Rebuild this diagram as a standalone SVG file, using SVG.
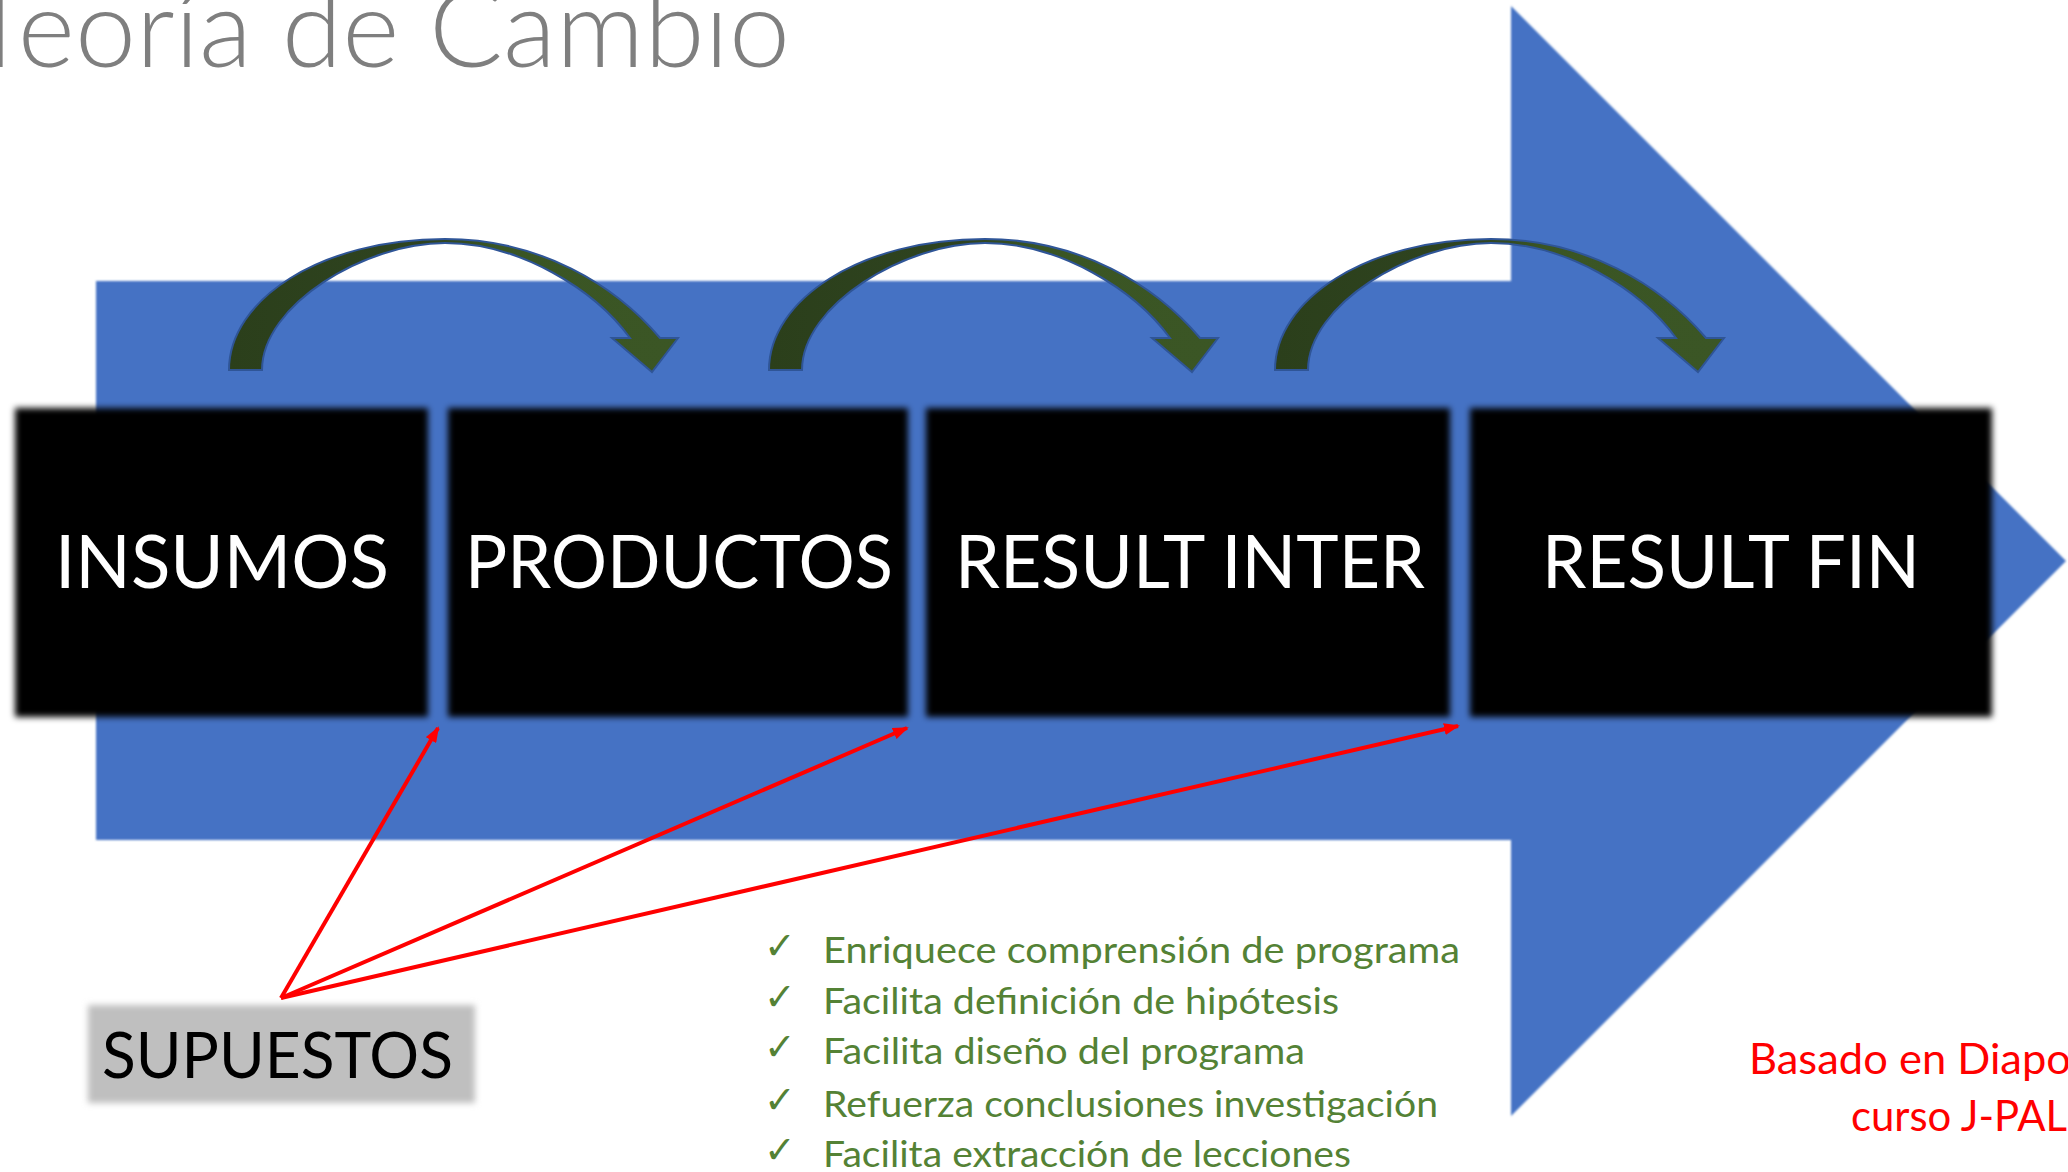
<svg xmlns="http://www.w3.org/2000/svg" width="2068" height="1172" viewBox="0 0 2068 1172">
<defs>
<style>
.box{fill:#000;filter:url(#soft)}
.lbl{font-family:Lato,"Open Sans","Liberation Sans",sans-serif;font-size:74px;fill:#fff;text-anchor:middle}
.curve{fill:url(#grn);stroke:#2f5597;stroke-width:2}
.red{stroke:#ff0000;stroke-width:4;fill:none;marker-end:url(#rh)}
.item{font-family:Lato,"Open Sans","Liberation Sans",sans-serif;font-size:37px;fill:#548235}
.chk{font-family:"DejaVu Sans",sans-serif;font-size:38px;font-weight:bold;fill:#548235}
.note{font-family:Lato,"Open Sans","Liberation Sans",sans-serif;font-size:43px;fill:#ff0000}
</style>
<filter id="soft" x="-10%" y="-10%" width="120%" height="120%"><feGaussianBlur stdDeviation="3"/></filter>
<filter id="soft1" x="-5%" y="-5%" width="110%" height="110%"><feGaussianBlur stdDeviation="1.2"/></filter>
<linearGradient id="grn" x1="0" y1="0" x2="1" y2="0">
<stop offset="0" stop-color="#2b3f1b"/>
<stop offset="0.45" stop-color="#2f4420"/>
<stop offset="0.6" stop-color="#3a5524"/>
<stop offset="1" stop-color="#3b5625"/>
</linearGradient>
<marker id="rh" markerUnits="userSpaceOnUse" markerWidth="16" markerHeight="12" refX="14" refY="6" orient="auto">
<path d="M0,0 L16,6 L0,12 z" fill="#ff0000"/>
</marker>
<path id="carc" d="M229,370 C229,300 320,239 445,239 C540,239 615,285 660,338 L678,338 L652,372 L612,338 L630,338 C595,290 520,243 445,243 C365,243 262,305 262,370 Z"/>
</defs>

<rect width="2068" height="1172" fill="#fff"/>

<g id="big-arrow">
<polygon points="96,281 1511,281 1511,6 2066,561 1511,1116 1511,840 96,840" fill="#4472c4" filter="url(#soft1)"/>
</g>

<text id="title" x="-32" y="67" font-family="Lato,'Open Sans','Liberation Sans',sans-serif" font-weight="300" font-size="108" fill="#7f7f7f" textLength="822" lengthAdjust="spacingAndGlyphs">Teoría de Cambio</text>

<g id="node-insumos">
<rect class="box" x="15" y="408" width="413" height="309"/>
<text class="lbl" x="222" y="588" textLength="334" lengthAdjust="spacingAndGlyphs">INSUMOS</text>
</g>
<g id="node-productos">
<rect class="box" x="448" y="408" width="460" height="309"/>
<text class="lbl" x="679" y="588" textLength="428" lengthAdjust="spacingAndGlyphs">PRODUCTOS</text>
</g>
<g id="node-result-inter">
<rect class="box" x="926" y="408" width="524" height="309"/>
<text class="lbl" x="1190" y="588" textLength="470" lengthAdjust="spacingAndGlyphs">RESULT INTER</text>
</g>
<g id="node-result-fin">
<rect class="box" x="1470" y="408" width="522" height="309"/>
<text class="lbl" x="1731" y="588" textLength="378" lengthAdjust="spacingAndGlyphs">RESULT FIN</text>
</g>

<g id="node-supuestos">
<rect x="88" y="1005" width="387" height="98" fill="#bfbfbf" filter="url(#soft)"/>
<text x="102" y="1078" font-family="Lato,'Open Sans','Liberation Sans',sans-serif" font-size="64" fill="#000" textLength="351" lengthAdjust="spacingAndGlyphs">SUPUESTOS</text>
</g>

<g id="connectors">
<use href="#carc" class="curve"/>
<use href="#carc" class="curve" transform="translate(540,0)"/>
<use href="#carc" class="curve" transform="translate(1046,0)"/>
<line class="red" x1="281" y1="998" x2="438" y2="728" stroke-width="3.5"/>
<line class="red" x1="281" y1="998" x2="907" y2="728"/>
<line class="red" x1="281" y1="998" x2="1458" y2="726"/>
</g>

<g id="benefits">
<text class="chk" x="764" y="959">✓</text>
<text class="item" x="823" y="963" textLength="637" lengthAdjust="spacingAndGlyphs">Enriquece comprensión de programa</text>
<text class="chk" x="764" y="1010">✓</text>
<text class="item" x="823" y="1014" textLength="516" lengthAdjust="spacingAndGlyphs">Facilita definición de hipótesis</text>
<text class="chk" x="764" y="1060">✓</text>
<text class="item" x="823" y="1064" textLength="482" lengthAdjust="spacingAndGlyphs">Facilita diseño del programa</text>
<text class="chk" x="764" y="1113">✓</text>
<text class="item" x="823" y="1117" textLength="615" lengthAdjust="spacingAndGlyphs">Refuerza conclusiones investigación</text>
<text class="chk" x="764" y="1163">✓</text>
<text class="item" x="823" y="1167" textLength="528" lengthAdjust="spacingAndGlyphs">Facilita extracción de lecciones</text>
</g>

<g id="source-note">
<text class="note" x="1749" y="1074" textLength="322" lengthAdjust="spacingAndGlyphs">Basado en Diapo</text>
<text class="note" x="1851" y="1131" textLength="216" lengthAdjust="spacingAndGlyphs">curso J-PAL</text>
</g>
</svg>
